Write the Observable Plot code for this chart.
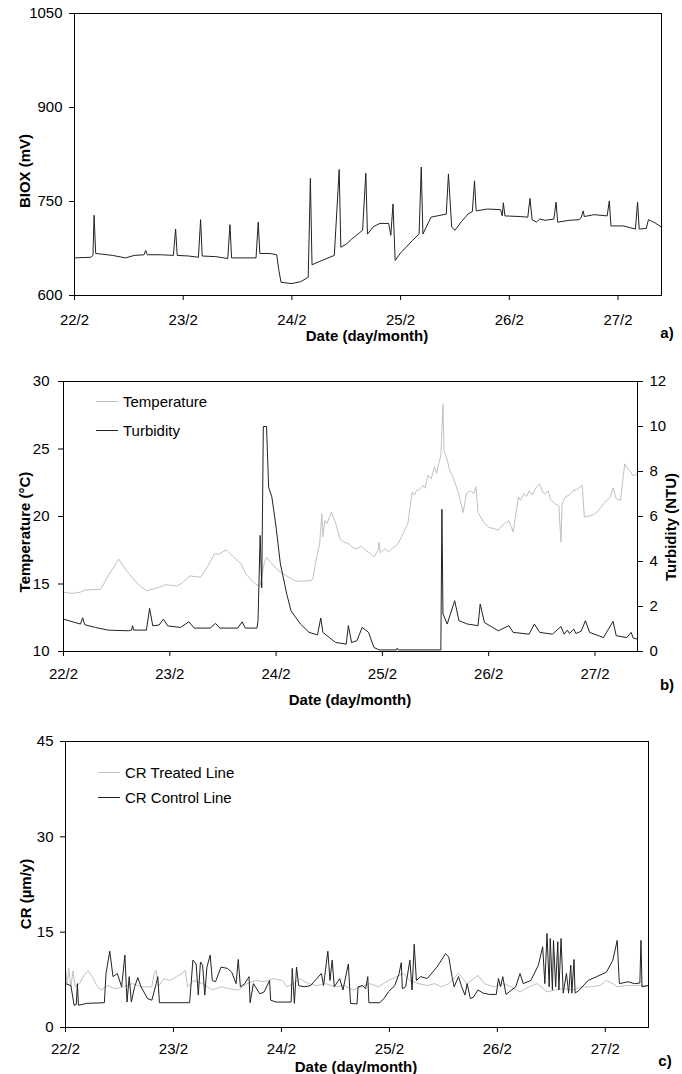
<!DOCTYPE html>
<html>
<head>
<meta charset="utf-8">
<script src="https://cdn.jsdelivr.net/npm/d3@7"></script>
<script src="https://cdn.jsdelivr.net/npm/@observablehq/plot@0.6"></script>
<style>
  body { margin: 0; background: #fff; }
  #root { position: relative; width: 682px; height: 1074px; background: #fff; font-family: "Liberation Sans", Arial, sans-serif; color: #000; overflow: hidden; }
  .panel { position: absolute; left: 0; }
  .t { position: absolute; white-space: nowrap; transform: translate(-50%, -50%); font-weight: bold; font-size: 15px; line-height: 1; }
  .yt { position: absolute; white-space: nowrap; transform: translate(-50%, -50%) rotate(-90deg); font-weight: bold; font-size: 15px; line-height: 1; }
  .leg { position: absolute; font-size: 15px; white-space: nowrap; display: flex; align-items: center; line-height: 1; }
  .leg span.sw { display: inline-block; width: 22px; height: 0; border-top: 1px solid; margin-right: 5px; }
</style>
</head>
<body>
<div id="root">
  <div class="panel" id="pa" style="top:0"></div>
  <div class="panel" id="pb" style="top:345px"></div>
  <div class="panel" id="pc" style="top:710px"></div>

  <div class="yt" style="left:24px; top:171px">BIOX (mV)</div>
  <div class="t" style="left:367px; top:335px">Date (day/month)</div>
  <div class="t" style="left:667px; top:332px">a)</div>

  <div class="yt" style="left:24px; top:532px">Temperature (°C)</div>
  <div class="yt" style="left:670px; top:527px">Turbidity (NTU)</div>
  <div class="t" style="left:350px; top:699px">Date (day/month)</div>
  <div class="t" style="left:667px; top:684px">b)</div>
  <div class="leg" style="left:96px; top:394px"><span class="sw" style="border-color:#c0c0c0"></span>Temperature</div>
  <div class="leg" style="left:96px; top:423px"><span class="sw" style="border-color:#222"></span>Turbidity</div>

  <div class="yt" style="left:25px; top:894px">CR (µm/y)</div>
  <div class="t" style="left:356px; top:1066px">Date (day/month)</div>
  <div class="t" style="left:665px; top:1060px">c)</div>
  <div class="leg" style="left:98px; top:765px"><span class="sw" style="border-color:#c0c0c0"></span>CR Treated Line</div>
  <div class="leg" style="left:98px; top:790px"><span class="sw" style="border-color:#222"></span>CR Control Line</div>
</div>
<script>
// ---- shared x axis (days since 22 Feb) ----
const dayTicks = [0, 1, 2, 3, 4, 5];
const dayLabels = ["22/2", "23/2", "24/2", "25/2", "26/2", "27/2"];

// ---- panel a: BIOX (mV) ----
const bioxTicks = [600, 750, 900, 1050];
const bioxT = [0.00,0.15,0.17,0.18,0.195,0.25,0.35,0.47,0.55,0.64,0.655,0.67,0.80,0.91,0.93,0.945,1.05,1.14,1.16,1.175,1.30,1.41,1.43,1.445,1.55,1.67,1.69,1.705,1.80,1.86,1.88,1.90,2.00,2.08,2.15,2.17,2.185,2.25,2.39,2.435,2.45,2.50,2.55,2.65,2.68,2.695,2.75,2.81,2.89,2.91,2.93,2.95,3.00,3.11,3.17,3.19,3.205,3.28,3.42,3.44,3.47,3.50,3.56,3.62,3.66,3.68,3.695,3.80,3.92,3.935,3.945,3.96,4.10,4.17,4.19,4.21,4.25,4.28,4.33,4.41,4.43,4.445,4.55,4.64,4.66,4.68,4.69,4.78,4.90,4.92,4.935,5.05,5.16,5.18,5.195,5.26,5.28,5.34,5.40];
const bioxV = [660,661,664,728,667,666,664,660,664,665,672,665,665,664,706,664,663,661,721,663,662,659,713,660,660,660,717,667,667,665,640,621,619,622,629,787,649,654,664,801,677,682,690,704,795,698,710,715,715,696,746,656,668,688,698,805,698,725,730,794,709,704,718,730,734,783,735,738,737,727,748,727,726,725,755,721,717,722,720,722,749,717,720,721,724,735,726,729,727,751,711,711,706,749,706,707,721,716,709];

// ---- panel b: Temperature (°C) and Turbidity (NTU) ----
const tempTicks = [10, 15, 20, 25, 30];
const turbTicks = [0, 2, 4, 6, 8, 10, 12];
const tempT = [0.00,0.08,0.16,0.20,0.35,0.42,0.52,0.60,0.70,0.78,0.85,0.92,0.96,1.07,1.12,1.19,1.29,1.35,1.42,1.46,1.53,1.60,1.67,1.72,1.81,1.85,1.89,1.91,1.95,2.02,2.12,2.19,2.33,2.35,2.37,2.41,2.43,2.44,2.46,2.48,2.52,2.56,2.60,2.64,2.68,2.72,2.76,2.80,2.84,2.88,2.92,2.96,2.97,2.98,3.02,3.06,3.10,3.14,3.18,3.24,3.28,3.30,3.32,3.35,3.38,3.40,3.43,3.46,3.49,3.51,3.53,3.55,3.57,3.58,3.61,3.63,3.68,3.72,3.76,3.79,3.83,3.86,3.88,3.90,3.95,4.00,4.05,4.09,4.15,4.19,4.23,4.28,4.30,4.33,4.36,4.38,4.41,4.45,4.48,4.51,4.53,4.56,4.58,4.62,4.66,4.68,4.69,4.72,4.76,4.79,4.83,4.88,4.90,4.98,5.03,5.08,5.14,5.17,5.20,5.24,5.28,5.30,5.33,5.36,5.40];
const tempV = [14.4,14.3,14.4,14.55,14.6,15.6,16.84,15.9,15.0,14.5,14.65,14.8,14.95,14.85,15.1,15.6,15.5,16.2,17.24,17.2,17.53,17.0,16.5,15.7,14.96,14.88,16.6,17.0,16.6,16.0,15.5,15.2,15.25,15.5,16.5,18.0,20.2,18.5,19.7,19.5,20.3,19.5,18.35,18.1,18.0,17.7,17.6,17.8,17.5,17.3,17.0,17.5,18.1,17.3,17.6,17.4,17.7,17.9,18.5,19.5,21.8,21.6,21.9,22.0,22.3,22.1,23.06,22.8,23.7,23.2,23.9,24.5,28.3,24.9,24.2,23.5,22.6,21.6,20.3,21.7,21.9,21.7,22.2,20.3,19.6,19.2,19.1,19.0,19.5,19.7,18.85,21.45,21.2,21.7,21.5,21.9,21.6,22.2,22.4,21.8,21.7,21.9,21.3,20.95,20.8,18.1,20.9,21.45,21.6,21.9,22.0,22.3,19.96,20.1,20.4,20.95,21.4,22.1,21.3,21.2,23.9,23.6,23.4,23.0,23.2];
const turbT = [0.00,0.10,0.16,0.18,0.20,0.30,0.42,0.61,0.64,0.65,0.66,0.78,0.81,0.84,0.90,0.94,0.98,1.10,1.18,1.23,1.38,1.43,1.47,1.64,1.68,1.71,1.82,1.83,1.85,1.865,1.88,1.91,1.93,1.96,2.00,2.04,2.10,2.14,2.23,2.31,2.39,2.42,2.44,2.56,2.66,2.68,2.71,2.76,2.81,2.87,2.92,2.97,3.13,3.14,3.15,3.55,3.56,3.57,3.61,3.68,3.72,3.80,3.90,3.92,3.96,4.09,4.19,4.23,4.38,4.43,4.48,4.60,4.68,4.71,4.74,4.76,4.80,4.82,4.87,4.91,4.95,5.08,5.17,5.20,5.30,5.34,5.36,5.40];
const turbV = [1.44,1.30,1.22,1.50,1.19,1.07,0.95,0.92,0.95,1.15,0.95,0.95,1.92,1.14,1.18,1.44,1.14,1.07,1.32,1.04,1.04,1.25,1.04,1.04,1.32,1.04,1.04,1.37,5.16,2.83,10.0,10.0,7.3,6.87,5.53,3.9,2.56,1.81,1.22,0.85,0.74,1.49,0.85,0.40,0.33,1.15,0.40,0.48,1.07,0.85,0.18,0.07,0.07,0.15,0.07,0.07,6.32,1.67,1.22,2.26,1.37,1.22,1.15,2.11,1.29,0.92,1.15,0.85,0.77,1.22,0.85,0.77,1.11,0.77,0.95,0.80,1.0,0.80,0.90,1.37,0.85,0.62,1.34,0.70,0.62,0.85,0.60,0.55];

// ---- panel c: CR (µm/y) ----
const crTicks = [0, 15, 30, 45];
const ctrlT = [0.00,0.05,0.08,0.10,0.11,0.12,0.20,0.36,0.375,0.41,0.44,0.48,0.52,0.55,0.57,0.59,0.61,0.64,0.67,0.70,0.76,0.80,0.84,0.855,0.87,1.15,1.18,1.21,1.23,1.25,1.27,1.29,1.31,1.34,1.36,1.39,1.44,1.50,1.54,1.58,1.60,1.62,1.66,1.70,1.71,1.74,1.80,1.84,1.89,1.90,1.95,2.09,2.10,2.12,2.14,2.16,2.21,2.27,2.37,2.39,2.43,2.45,2.47,2.49,2.52,2.54,2.57,2.62,2.64,2.70,2.71,2.75,2.78,2.80,2.81,2.91,2.95,2.99,3.05,3.09,3.11,3.12,3.15,3.19,3.21,3.23,3.25,3.29,3.35,3.44,3.52,3.55,3.58,3.60,3.64,3.67,3.70,3.72,3.75,3.78,3.82,3.87,3.93,3.99,4.01,4.03,4.05,4.08,4.17,4.21,4.24,4.31,4.38,4.42,4.44,4.46,4.48,4.49,4.51,4.52,4.54,4.56,4.57,4.59,4.61,4.64,4.66,4.68,4.69,4.71,4.72,4.76,4.84,4.92,5.01,5.07,5.11,5.13,5.21,5.27,5.32,5.33,5.34,5.40];
const ctrlV = [6.9,6.6,3.5,3.6,6.9,3.5,3.8,3.9,8.5,12.0,8.0,8.5,6.4,11.4,4.0,8.0,4.0,6.4,7.85,6.4,4.55,4.3,6.9,8.0,3.9,3.9,10.6,10.0,5.1,10.3,9.8,5.1,9.5,11.4,7.4,7.2,9.5,9.3,8.7,6.9,10.7,6.4,6.9,8.0,3.9,6.9,5.3,5.6,7.4,4.3,4.0,4.0,9.3,3.8,9.5,6.6,6.4,6.6,8.5,6.6,12.0,7.4,10.6,6.4,7.2,7.7,5.9,10.0,3.8,3.7,6.4,6.6,6.1,8.0,3.9,3.9,4.55,5.6,6.6,8.5,10.2,6.1,6.4,10.6,5.9,13.1,7.4,8.0,7.7,9.5,11.6,11.1,8.0,6.4,8.0,6.4,5.1,6.9,4.55,4.8,5.9,5.4,5.2,5.2,7.7,6.4,8.0,5.2,6.4,8.5,6.9,7.4,9.8,12.7,6.9,14.8,6.4,14.0,5.9,13.7,6.4,13.5,5.9,14.0,5.4,8.5,5.4,9.8,5.4,10.7,5.4,5.9,7.4,8.0,8.7,10.6,13.7,6.9,7.2,6.9,7.0,13.7,6.4,6.6];
const treatT = [0.00,0.015,0.03,0.05,0.07,0.09,0.13,0.17,0.21,0.25,0.29,0.33,0.39,0.46,0.54,0.62,0.70,0.80,0.82,0.84,0.86,0.91,0.97,1.03,1.08,1.11,1.13,1.19,1.27,1.36,1.44,1.52,1.60,1.68,1.76,1.84,1.93,2.01,2.05,2.11,2.17,2.25,2.33,2.41,2.50,2.58,2.66,2.74,2.82,2.90,2.99,3.07,3.13,3.19,3.27,3.35,3.42,3.48,3.55,3.64,3.72,3.82,3.88,3.97,4.05,4.13,4.21,4.29,4.37,4.46,4.54,4.62,4.70,4.78,4.86,4.95,5.01,5.07,5.11,5.19,5.27,5.33,5.40];
const treatV = [9.3,6.9,9.3,6.4,8.9,6.4,6.9,8.2,8.9,7.9,6.6,5.9,6.6,6.1,6.4,6.9,6.4,6.4,8.5,9.0,6.4,7.7,7.4,8.0,8.5,9.0,6.4,7.4,6.9,5.9,6.4,6.1,5.9,6.9,7.4,7.2,7.7,7.4,6.4,6.9,7.7,6.9,6.6,6.9,6.4,6.6,5.9,6.4,6.9,6.4,7.4,8.0,8.5,7.4,6.9,6.6,6.9,6.4,6.9,8.5,6.9,8.2,6.9,6.4,6.9,6.4,5.6,6.4,6.9,5.6,5.9,6.1,5.9,6.4,6.4,6.6,7.4,6.9,6.4,6.6,6.6,6.6,6.6];

const DARK = "#222", LIGHT = "#c0c0c0";
const baseStyle = {fontFamily: "'Liberation Sans', Arial, sans-serif", fontSize: "15px", background: "none", color: "#000", overflow: "visible"};
const dayFmt = d => dayLabels[dayTicks.indexOf(d)];
const plain = d => String(d);

// panel a
document.getElementById("pa").append(Plot.plot({
  width: 682, height: 345,
  marginLeft: 74, marginRight: 21, marginTop: 13, marginBottom: 50,
  style: baseStyle,
  x: {domain: [0, 5.4]},
  y: {domain: [600, 1050]},
  marks: [
    Plot.line(bioxV, {x: bioxT, y: bioxV, stroke: DARK, strokeWidth: 1}),
    Plot.frame({stroke: "#000", strokeWidth: 1}),
    Plot.axisX({ticks: dayTicks, tickFormat: dayFmt, tickSize: 5, tickPadding: 14, label: null}),
    Plot.axisY({ticks: bioxTicks, tickFormat: plain, tickSize: 5, tickPadding: 7, label: null})
  ]
}));

// panel b (turbidity drawn on the temperature scale: 0..12 NTU ↔ 10..30 °C)
const turbToY = v => 10 + v * 20 / 12;
document.getElementById("pb").append(Plot.plot({
  width: 682, height: 365,
  marginLeft: 63, marginRight: 45, marginTop: 36, marginBottom: 59,
  style: baseStyle,
  x: {domain: [0, 5.4]},
  y: {domain: [10, 30]},
  marks: [
    Plot.line(tempV, {x: tempT, y: tempV, stroke: LIGHT, strokeWidth: 1}),
    Plot.line(turbV, {x: turbT, y: turbV.map(turbToY), stroke: DARK, strokeWidth: 1}),
    Plot.frame({stroke: "#000", strokeWidth: 1}),
    Plot.axisX({ticks: dayTicks, tickFormat: dayFmt, tickSize: 5, tickPadding: 12, label: null}),
    Plot.axisY({ticks: tempTicks, tickFormat: plain, tickSize: 5, tickPadding: 9, label: null}),
    Plot.axisY({anchor: "right", ticks: turbTicks.map(turbToY), tickFormat: y => String(Math.round((y - 10) * 12 / 20)), tickSize: 5, tickPadding: 7, label: null})
  ]
}));

// panel c
document.getElementById("pc").append(Plot.plot({
  width: 682, height: 364,
  marginLeft: 65, marginRight: 34, marginTop: 31, marginBottom: 47,
  style: baseStyle,
  x: {domain: [0, 5.4]},
  y: {domain: [0, 45]},
  marks: [
    Plot.line(treatV, {x: treatT, y: treatV, stroke: LIGHT, strokeWidth: 1}),
    Plot.line(ctrlV, {x: ctrlT, y: ctrlV, stroke: DARK, strokeWidth: 1}),
    Plot.frame({stroke: "#000", strokeWidth: 1}),
    Plot.axisX({ticks: dayTicks, tickFormat: dayFmt, tickSize: 5, tickPadding: 11, label: null}),
    Plot.axisY({ticks: crTicks, tickFormat: plain, tickSize: 5, tickPadding: 7, label: null})
  ]
}));
</script>
</body>
</html>
